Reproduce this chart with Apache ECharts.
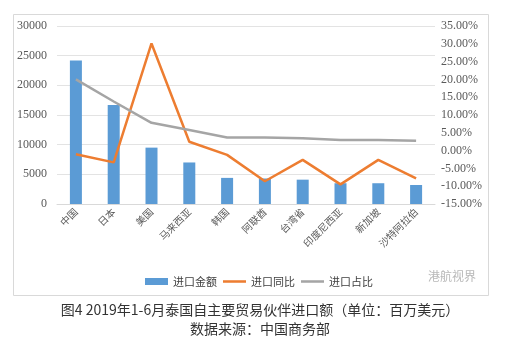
<!DOCTYPE html>
<html><head><meta charset="utf-8">
<script src="https://cdn.jsdelivr.net/npm/echarts@6/dist/echarts.min.js"></script>
<style>html,body{margin:0;padding:0;background:#fff}#c{width:520px;height:355px}</style>
</head><body><div id="c"></div>
<script>
var categories = ['中国','日本','美国','马来西亚','韩国','阿联酋','台湾省','印度尼西亚','新加坡','沙特阿拉伯'];
var importValue = [24200, 16700, 9500, 7000, 4400, 4300, 4100, 3500, 3500, 3200];
var importYoY = [-1.0, -3.3, 30.1, 2.5, -1.2, -8.6, -2.6, -9.5, -2.6, -7.8];
var importShare = [20.0, 13.8, 7.8, 5.8, 3.7, 3.7, 3.5, 3.0, 3.0, 2.8];
var seriesNames = ['进口金额','进口同比','进口占比'];
var captionLines = ['图4 2019年1-6月泰国自主要贸易伙伴进口额（单位：百万美元）','数据来源：中国商务部'];

var chart = echarts.init(document.getElementById('c'), null, {renderer:'canvas'});
var serif = 'Liberation Serif';
var cjk = 'Noto Sans CJK SC';
var lineIcon = 'path://M0,0 L20,0 L20,2.2 L0,2.2 Z';
chart.setOption({
  animation:false,
  backgroundColor:'#fff',
  grid:{left:57,right:85,top:26,bottom:151},
  legend:{
    left:140, top:271, itemGap:6, itemWidth:23, itemHeight:7,
    textStyle:{fontFamily:cjk,fontSize:11,color:'#404040'},
    data:[{name:seriesNames[0],icon:'rect'},{name:seriesNames[1],icon:lineIcon},{name:seriesNames[2],icon:lineIcon}]
  },
  xAxis:{
    type:'category', data:categories,
    axisLine:{lineStyle:{color:'#d9d9d9'}}, axisTick:{show:false},
    axisLabel:{rotate:45,fontFamily:cjk,fontSize:10,color:'#595959',margin:6,interval:0}
  },
  yAxis:[
    {type:'value',min:0,max:30000,interval:5000,
     axisLine:{show:false},axisTick:{show:false},
     splitLine:{lineStyle:{color:'#e3e3e3'}},
     axisLabel:{fontFamily:serif,fontSize:12,color:'#595959',margin:10,
       formatter:function(v){return String(v);}}},
    {type:'value',min:-15,max:35,interval:5,position:'right',
     axisLine:{show:false},axisTick:{show:false},splitLine:{show:false},
     axisLabel:{fontFamily:serif,fontSize:12,color:'#595959',margin:6,
       formatter:function(v){return v.toFixed(2)+'%';}}}
  ],
  series:[
    {name:seriesNames[0],type:'bar',data:importValue,barWidth:12,itemStyle:{color:'#5b9bd5'}},
    {name:seriesNames[1],type:'line',yAxisIndex:1,data:importYoY,showSymbol:false,symbol:'none',
     lineStyle:{color:'#ed7d31',width:2.5},itemStyle:{color:'#ed7d31'}},
    {name:seriesNames[2],type:'line',yAxisIndex:1,data:importShare,showSymbol:false,symbol:'none',
     lineStyle:{color:'#a5a5a5',width:2.5},itemStyle:{color:'#a5a5a5'}}
  ],
  graphic:[
    {type:'rect',shape:{x:13.5,y:14.5,width:475,height:281},style:{fill:'none',stroke:'#d9d9d9',lineWidth:1},silent:true,z:-1},
    {type:'text',left:428,top:270,style:{text:'港航视界',font:'12px "Noto Sans CJK SC"',fill:'#b8b8b8'}},
    {type:'text',left:'center',top:303,style:{text:captionLines[0],font:'14px "Noto Sans CJK SC"',fill:'#333'}},
    {type:'text',left:'center',top:322,style:{text:captionLines[1],font:'14px "Noto Sans CJK SC"',fill:'#333'}}
  ]
});
</script></body></html>
